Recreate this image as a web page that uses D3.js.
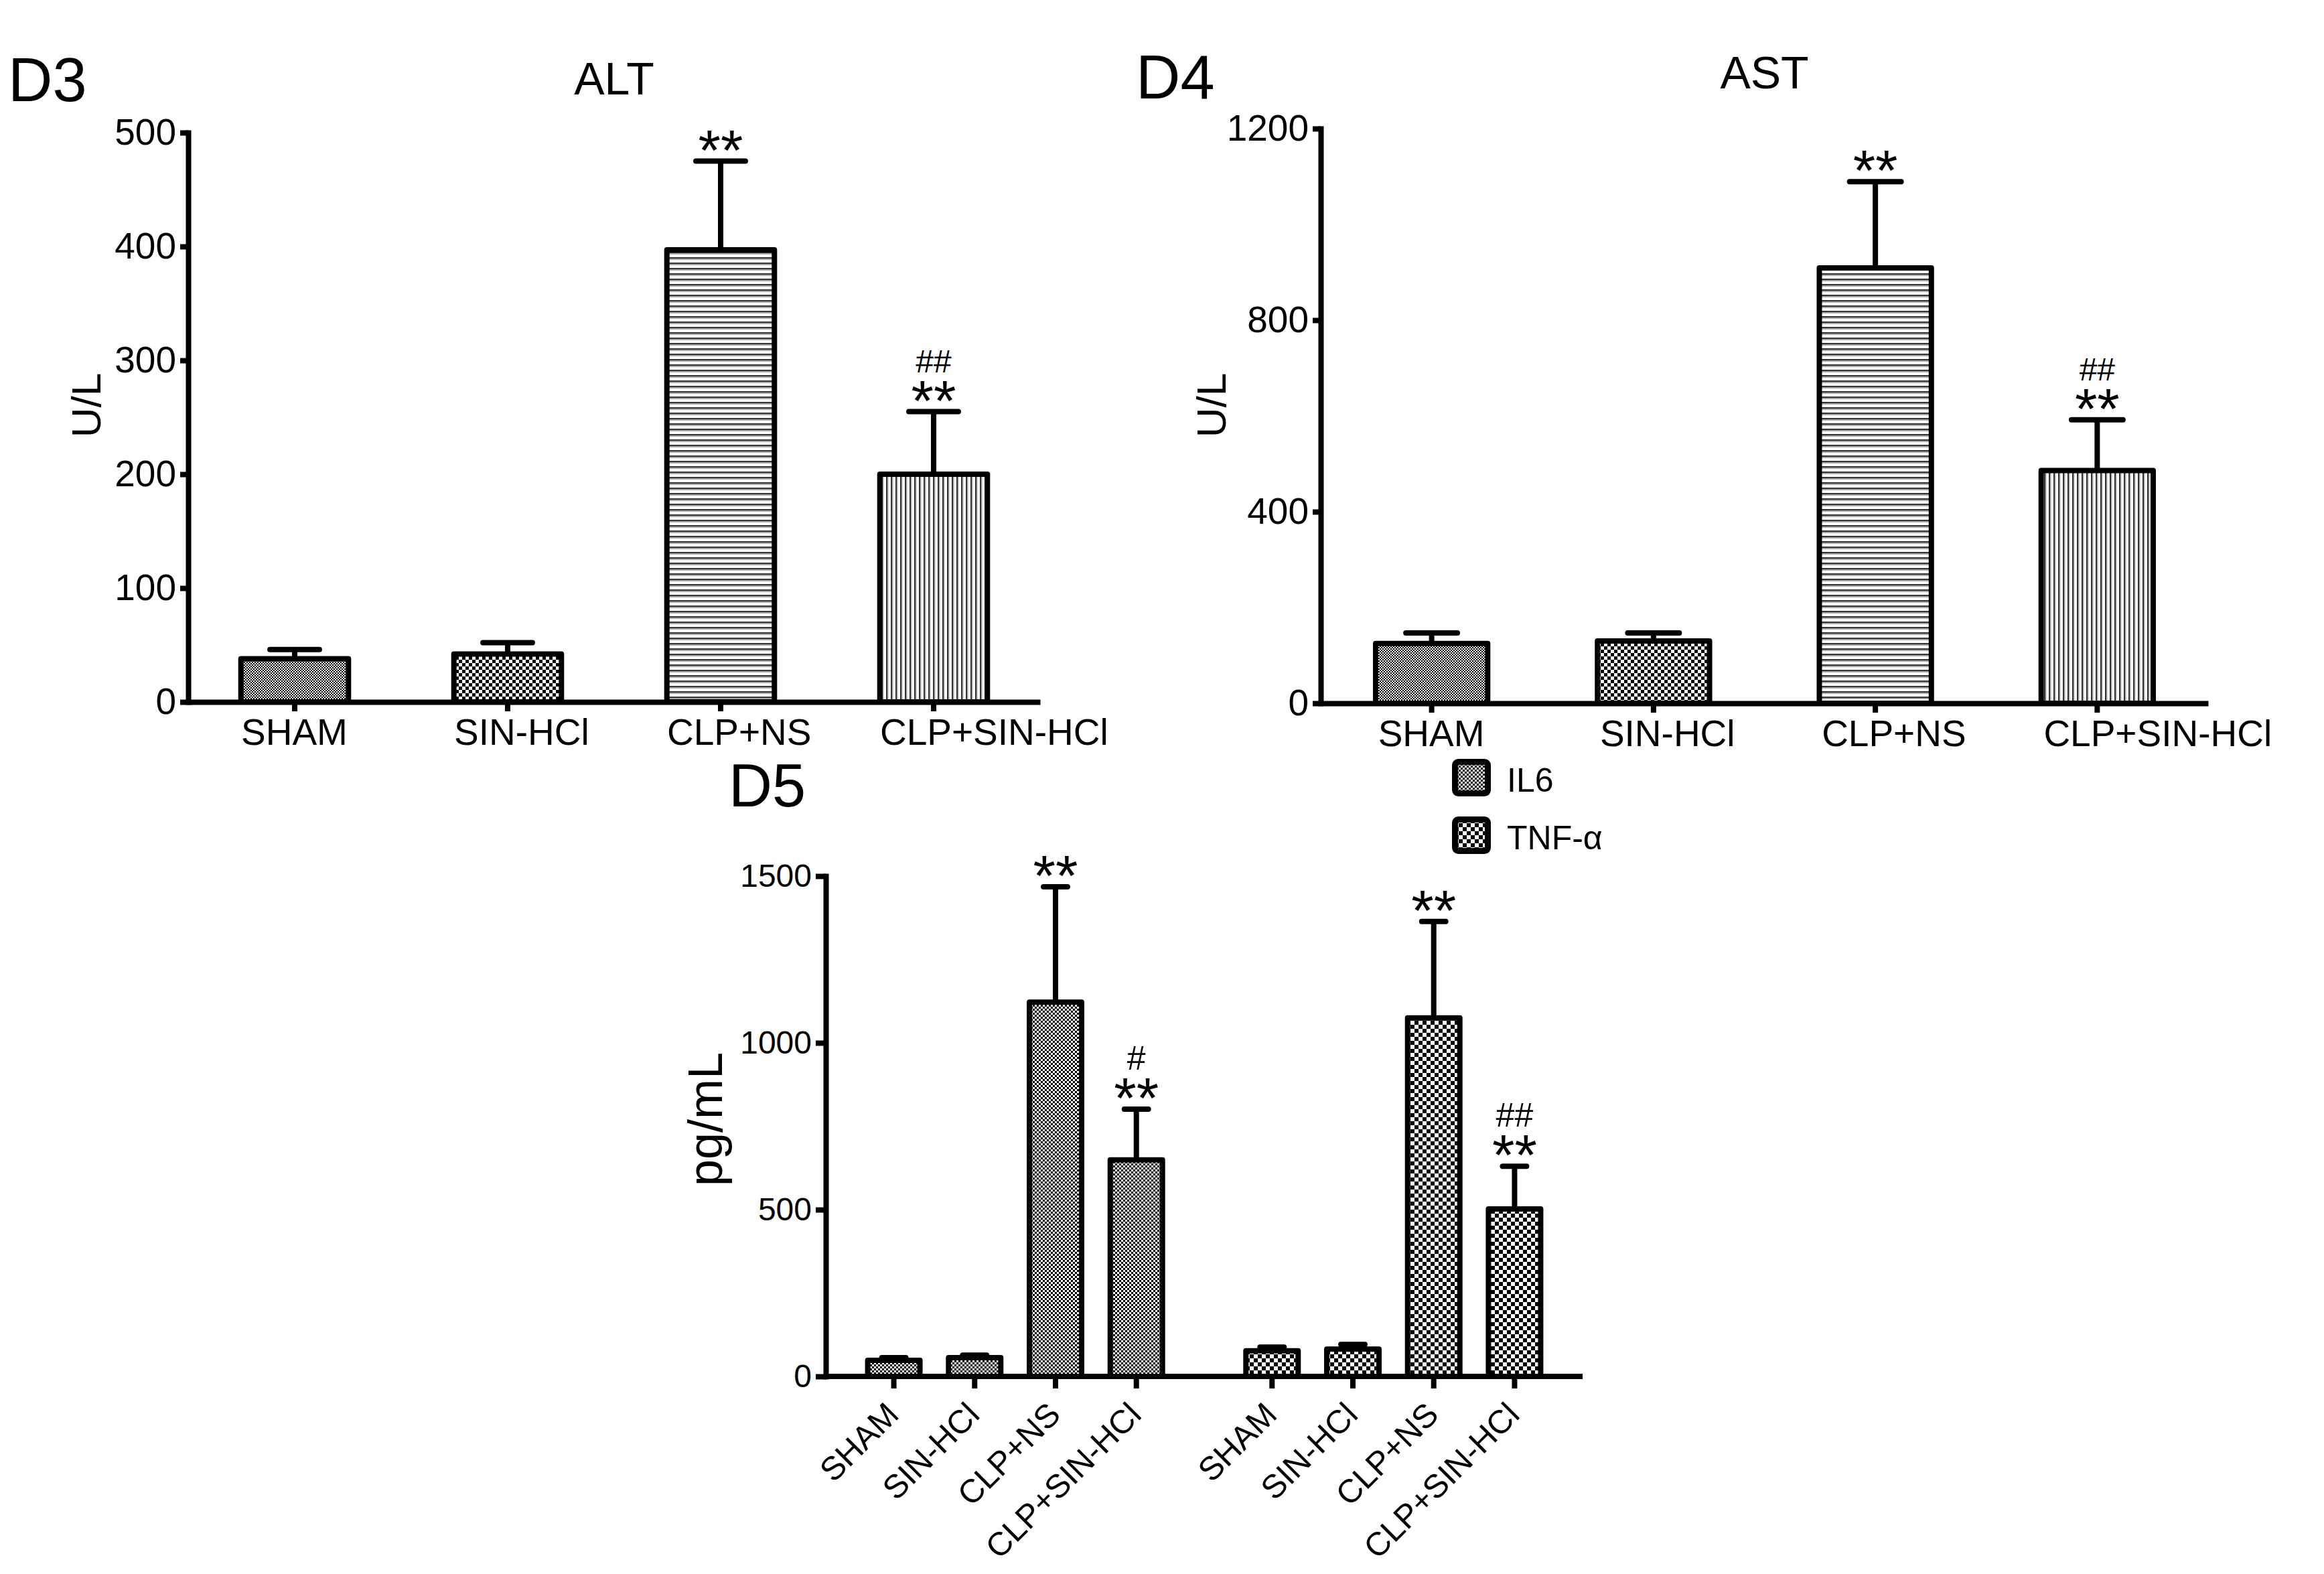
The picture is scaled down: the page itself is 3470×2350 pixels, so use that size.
<!DOCTYPE html>
<html>
<head>
<meta charset="utf-8">
<script src="https://cdn.jsdelivr.net/npm/d3@7"></script>
<style>
  body { margin: 0; background: #fff; }
  svg { display: block; font-family: "Liberation Sans", Arial, sans-serif; }
</style>
</head>
<body>
<svg id="fig" width="3470" height="2350"></svg>
<script>
// groups shared by all three panels
const groups = ['SHAM', 'SIN-HCl', 'CLP+NS', 'CLP+SIN-HCl'];

// D3: ALT (U/L)
const altMean = [38, 42, 397, 200];
const altSem = [8, 10, 78, 55];
const altTicks = [0, 100, 200, 300, 400, 500];

// D4: AST (U/L)
const astMean = [125, 130, 909, 486];
const astSem = [22, 17, 180, 106];
const astTicks = [0, 400, 800, 1200];

// D5: cytokines (pg/mL)
const cytokines = ['IL6', 'TNF-α'];
const il6Mean = [48, 56, 1122, 649];
const il6Sem = [8, 8, 346, 152];
const tnfMean = [77, 82, 1075, 502];
const tnfSem = [11, 14, 289, 128];
const cytoTicks = [0, 500, 1000, 1500];

// significance marks
const altStars = ['', '', '**', '**'];
const altHash = ['', '', '', '##'];
const astStars = ['', '', '**', '**'];
const astHash = ['', '', '', '##'];
const il6Stars = ['', '', '**', '**'];
const il6Hash = ['', '', '', '#'];
const tnfStars = ['', '', '**', '**'];
const tnfHash = ['', '', '', '##'];

const svg = d3.select('#fig');
const defs = svg.append('defs');

// fill patterns
function checker(id, s) {
    const p = defs.append('pattern')
        .attr('id', id)
        .attr('patternUnits', 'userSpaceOnUse')
        .attr('width', 2 * s)
        .attr('height', 2 * s);
    p.append('rect').attr('width', 2 * s).attr('height', 2 * s).attr('fill', '#fff');
    p.append('rect').attr('width', s).attr('height', s).attr('fill', '#000');
    p.append('rect').attr('x', s).attr('y', s).attr('width', s).attr('height', s).attr('fill', '#000');
}
checker('fine', 2);
checker('coarse', 5);
checker('il6', 3);
checker('tnf', 6);

const hl = defs.append('pattern').attr('id', 'hlines')
    .attr('patternUnits', 'userSpaceOnUse').attr('width', 8).attr('height', 8);
hl.append('rect').attr('width', 8).attr('height', 8).attr('fill', '#fff');
hl.append('rect').attr('width', 8).attr('height', 2.5).attr('fill', '#333');
hl.append('rect').attr('y', 2.5).attr('width', 8).attr('height', 1.5).attr('fill', '#aaa');

const vl = defs.append('pattern').attr('id', 'vlines')
    .attr('patternUnits', 'userSpaceOnUse').attr('width', 7).attr('height', 7);
vl.append('rect').attr('width', 7).attr('height', 7).attr('fill', '#fff');
vl.append('rect').attr('width', 2).attr('height', 7).attr('fill', '#333');
vl.append('rect').attr('x', 2).attr('width', 1.5).attr('height', 7).attr('fill', '#aaa');

const groupFills = ['url(#fine)', 'url(#coarse)', 'url(#hlines)', 'url(#vlines)'];

const LW = 8;

// draw a y axis with Prism-like styling
function drawYAxis(g, y, x0, ticks, fontSize, tickLen) {
    const ax = g.append('g')
        .attr('transform', `translate(${x0},0)`)
        .call(d3.axisLeft(y).tickValues(ticks).tickFormat(d3.format('d'))
            .tickSize(tickLen).tickSizeOuter(0).tickPadding(6));
    ax.select('.domain').attr('stroke-width', LW).attr('stroke-linecap', 'square');
    ax.selectAll('.tick line').attr('stroke-width', LW);
    ax.selectAll('.tick text')
        .attr('font-size', fontSize)
        .attr('font-family', '"Liberation Sans", Arial, sans-serif')
        .attr('fill', '#000');
    return ax;
}

// bars, error bars and marks
function drawBars(g, data, y, fontStar, fontHash) {
    const item = g.selectAll('.bar-item')
        .data(data)
        .join('g')
        .attr('class', 'bar-item');

    // error bar stem and cap
    item.append('line')
        .attr('x1', d => d.cx).attr('x2', d => d.cx)
        .attr('y1', d => y(d.mean)).attr('y2', d => y(d.mean + d.sem))
        .attr('stroke', '#000').attr('stroke-width', LW);
    item.append('line')
        .attr('x1', d => d.cx - d.bw * 0.23).attr('x2', d => d.cx + d.bw * 0.23)
        .attr('y1', d => y(d.mean + d.sem)).attr('y2', d => y(d.mean + d.sem))
        .attr('stroke', '#000').attr('stroke-width', LW).attr('stroke-linecap', 'round');

    item.append('rect')
        .attr('x', d => d.cx - d.bw / 2)
        .attr('y', d => y(d.mean))
        .attr('width', d => d.bw)
        .attr('height', d => y(0) - y(d.mean))
        .attr('fill', d => d.fill)
        .attr('stroke', '#000')
        .attr('stroke-width', LW)
        .attr('stroke-linejoin', 'round');

    // stars just above the error cap, hashes above the stars
    const starBase = d => y(d.mean + d.sem) + 13;
    item.append('text')
        .attr('x', d => d.cx)
        .attr('y', starBase)
        .attr('text-anchor', 'middle')
        .attr('font-size', fontStar)
        .text(d => d.star);
    item.append('text')
        .attr('x', d => d.cx)
        .attr('y', d => starBase(d) - 72)
        .attr('text-anchor', 'middle')
        .attr('font-size', fontHash)
        .text(d => d.hash);
}

// D3 / D4 single-factor panels
function simplePanel(cfg) {
    const g = svg.append('g');
    const x = d3.scaleBand().domain(groups).range([cfg.x0, cfg.x1]).paddingInner(0.495).paddingOuter(0.2475);
    const y = d3.scaleLinear().domain([0, cfg.max]).range([cfg.y0, cfg.yTop]);

    const data = groups.map((k, i) => ({
        cx: x(k) + x.bandwidth() / 2,
        bw: x.bandwidth(),
        mean: cfg.mean[i],
        sem: cfg.sem[i],
        fill: groupFills[i],
        star: cfg.stars[i],
        hash: cfg.hash[i]
    }));

    drawBars(g, data, y, 86, 48);

    // x axis
    const xa = g.append('g')
        .attr('transform', `translate(0,${cfg.y0})`)
        .call(d3.axisBottom(x).tickSize(14).tickSizeOuter(0).tickPadding(8));
    xa.select('.domain').attr('stroke-width', LW);
    xa.selectAll('.tick line').attr('stroke-width', LW);
    xa.selectAll('.tick text')
        .attr('font-size', 55)
        .attr('font-family', '"Liberation Sans", Arial, sans-serif')
        .attr('fill', '#000')
        .attr('text-anchor', 'start')
        .attr('x', -80)
        .attr('dy', '0.77em');

    drawYAxis(g, y, cfg.x0, cfg.ticks, 55, 12);

    g.append('text')
        .attr('x', (cfg.x0 + cfg.x1) / 2)
        .attr('y', cfg.titleY)
        .attr('text-anchor', 'middle')
        .attr('font-size', 68)
        .text(cfg.title);

    g.append('text')
        .attr('transform', `translate(${cfg.ylabX},${cfg.ylabY}) rotate(-90)`)
        .attr('text-anchor', 'middle')
        .attr('font-size', 62)
        .text('U/L');

    g.append('text')
        .attr('x', cfg.tagX)
        .attr('y', cfg.tagY)
        .attr('font-size', 92)
        .text(cfg.tag);
}

simplePanel({
    x0: 281, x1: 1553, y0: 1048, yTop: 198, max: 500,
    mean: altMean, sem: altSem, ticks: altTicks,
    stars: altStars, hash: altHash,
    title: 'ALT', titleY: 141,
    ylabX: 150, ylabY: 605,
    tag: 'D3', tagX: 12, tagY: 151
});

simplePanel({
    x0: 1972, x1: 3297, y0: 1050, yTop: 192, max: 1200,
    mean: astMean, sem: astSem, ticks: astTicks,
    stars: astStars, hash: astHash,
    title: 'AST', titleY: 132,
    ylabX: 1830, ylabY: 605,
    tag: 'D4', tagX: 1696, tagY: 147
});

// D5 grouped panel
(function () {
    const g = svg.append('g');
    const x0 = 1233, x1 = 2363, yBase = 2055, yTop = 1308;
    const outer = d3.scaleBand().domain(cytokines).range([x0, x1]).paddingInner(0.145).paddingOuter(0.073);
    const inner = d3.scaleBand().domain(groups).range([0, outer.bandwidth()]).paddingInner(0.354).paddingOuter(0.177);
    const y = d3.scaleLinear().domain([0, 1500]).range([yBase, yTop]);

    const series = [
        { key: 'IL6', mean: il6Mean, sem: il6Sem, stars: il6Stars, hash: il6Hash, fill: 'url(#il6)' },
        { key: 'TNF-α', mean: tnfMean, sem: tnfSem, stars: tnfStars, hash: tnfHash, fill: 'url(#tnf)' }
    ];
    const data = [];
    series.forEach(s => {
        groups.forEach((k, i) => {
            data.push({
                key: s.key, group: k,
                cx: outer(s.key) + inner(k) + inner.bandwidth() / 2,
                bw: inner.bandwidth(),
                mean: s.mean[i], sem: s.sem[i],
                fill: s.fill, star: s.stars[i], hash: s.hash[i]
            });
        });
    });

    drawBars(g, data, y, 86, 50);

    // x axis line and ticks
    g.append('line')
        .attr('x1', x0).attr('x2', x1)
        .attr('y1', yBase).attr('y2', yBase)
        .attr('stroke', '#000').attr('stroke-width', LW);
    g.selectAll('.xtick')
        .data(data)
        .join('line')
        .attr('class', 'xtick')
        .attr('x1', d => d.cx).attr('x2', d => d.cx)
        .attr('y1', yBase).attr('y2', yBase + 18)
        .attr('stroke', '#000').attr('stroke-width', LW);
    g.selectAll('.xlab')
        .data(data)
        .join('text')
        .attr('class', 'xlab')
        .attr('transform', d => `translate(${d.cx + 10},${yBase + 60}) rotate(-45)`)
        .attr('text-anchor', 'end')
        .attr('font-size', 49)
        .text(d => d.group);

    drawYAxis(g, y, x0, cytoTicks, 48, 15);

    g.append('text')
        .attr('transform', `translate(1078,1671) rotate(-90)`)
        .attr('text-anchor', 'middle')
        .attr('font-size', 72)
        .text('pg/mL');

    g.append('text')
        .attr('x', 1088)
        .attr('y', 1204)
        .attr('font-size', 90)
        .text('D5');

    // legend
    const leg = g.selectAll('.legend-item')
        .data(series)
        .join('g')
        .attr('class', 'legend-item')
        .attr('transform', (d, i) => `translate(2172,${1137 + i * 86})`);
    leg.append('rect')
        .attr('x', 0.5).attr('y', 0.5)
        .attr('width', 49).attr('height', 47)
        .attr('rx', 5)
        .attr('fill', d => d.fill)
        .attr('stroke', '#000')
        .attr('stroke-width', 9);
    leg.append('text')
        .attr('x', 78)
        .attr('y', 45)
        .attr('font-size', 50)
        .text(d => d.key);
})();
</script>
</body>
</html>
